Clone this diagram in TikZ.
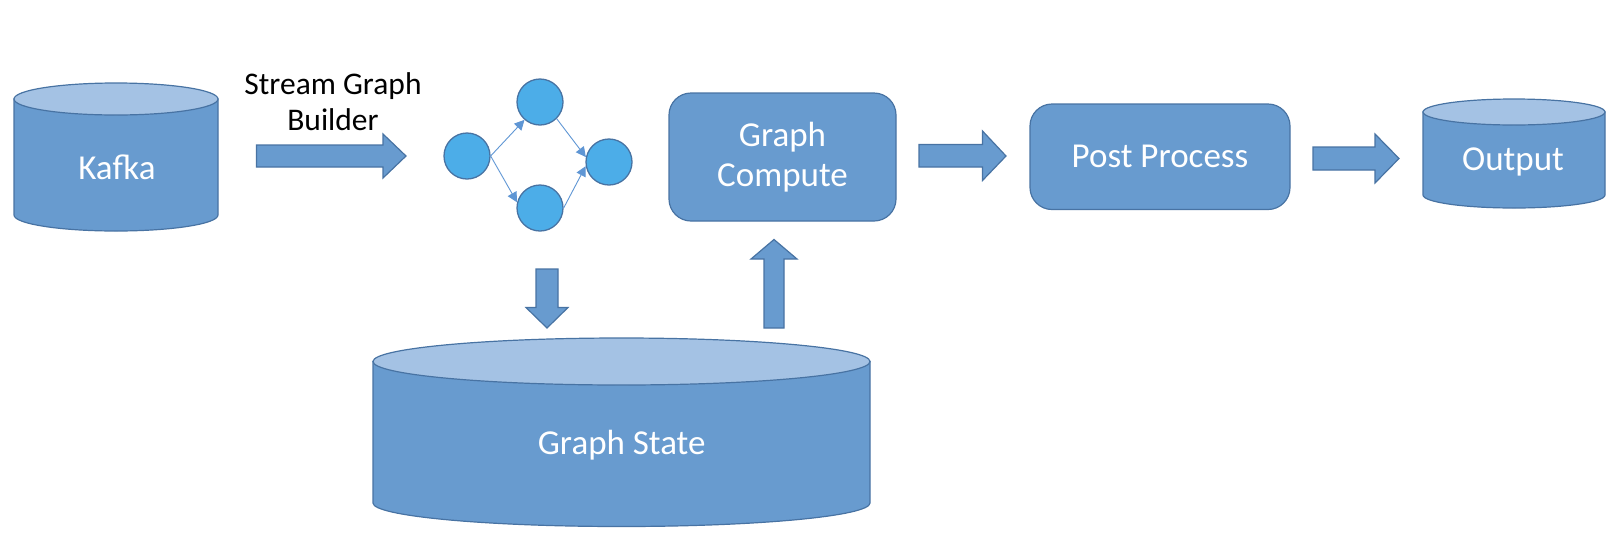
\documentclass[tikz,border=0pt]{standalone}
\usepackage{fontspec}
\setmainfont{Carlito}
\usetikzlibrary{arrows.meta}
\definecolor{bodyblue}{RGB}{104,155,207}
\definecolor{topblue}{RGB}{164,194,228}
\definecolor{edgeblue}{RGB}{72,115,163}
\definecolor{nodeblue}{RGB}{76,173,232}
\definecolor{linkblue}{RGB}{95,150,212}
\begin{document}
\begin{tikzpicture}[x=1pt,y=1pt,
  shapefill/.style={fill=bodyblue,draw=edgeblue,line width=1.2pt},
  capfill/.style={fill=topblue,draw=edgeblue,line width=1.2pt},
  txt/.style={text=white,font=\fontsize{35}{40}\selectfont,align=center},
  box/.style={shapefill,rounded corners=22pt,inner sep=0pt},
  gnode/.style={circle,fill=nodeblue,draw=edgeblue,line width=1.3pt,minimum size=46pt,inner sep=0pt},
  link/.style={draw=linkblue,line width=0.9pt,-{Triangle[length=10pt,width=10pt]}},
  blockarrow/.style={shapefill,line join=miter}]
\useasboundingbox (0,0) rectangle (1618,-542);
% Kafka cylinder
\path[shapefill] (14,-99) -- (14,-215) arc[start angle=180,end angle=360,x radius=102pt,y radius=16pt] -- (218,-99) -- cycle;
\path[capfill] (116,-99) ellipse[x radius=102pt,y radius=16pt];
\node[txt] (kafka) at (117,-167) {Kafka};
% Graph State cylinder
\path[shapefill] (373,-361.5) -- (373,-503) arc[start angle=180,end angle=360,x radius=248.5pt,y radius=23.5pt] -- (870,-361.5) -- cycle;
\path[capfill] (621.5,-361.5) ellipse[x radius=248.5pt,y radius=23.5pt];
\node[txt] (state) at (621.7,-445) {Graph State};
% Output cylinder
\path[shapefill] (1423,-112) -- (1423,-195) arc[start angle=180,end angle=360,x radius=91pt,y radius=13pt] -- (1605,-112) -- cycle;
\path[capfill] (1514,-112) ellipse[x radius=91pt,y radius=13pt];
\node[txt] (output) at (1513,-162) {Output};
% boxes
\node[box,txt,minimum width=227pt,minimum height=128pt] (compute) at (782.5,-157) {Graph\\Compute};
\node[box,txt,minimum width=260pt,minimum height=105.5pt] (post) at (1160,-156.75) {Post Process};
% block arrows
\path[blockarrow] (256.5,-145) -- (383,-145) -- (383,-134) -- (406,-156) -- (383,-178) -- (383,-167) -- (256.5,-167) -- cycle;
\path[blockarrow] (919,-144.5) -- (982.5,-144.5) -- (982.5,-131) -- (1006,-156) -- (982.5,-180.5) -- (982.5,-167) -- (919,-167) -- cycle;
\path[blockarrow] (1313,-147) -- (1375,-147) -- (1375,-134) -- (1399,-158.5) -- (1375,-183) -- (1375,-170) -- (1313,-170) -- cycle;
\path[blockarrow] (536,-269) -- (558,-269) -- (558,-307.5) -- (568,-307.5) -- (547,-328) -- (526,-307.5) -- (536,-307.5) -- cycle;
\path[blockarrow] (764,-328) -- (784,-328) -- (784,-259) -- (797,-259) -- (774,-239.5) -- (751,-259) -- (764,-259) -- cycle;
% label
\node[font=\fontsize{31.5}{36}\selectfont,align=center] (sgb) at (333,-102) {Stream Graph\\Builder};
% small graph
\node[gnode] (ga) at (467,-156) {};
\node[gnode] (gb) at (540,-102) {};
\node[gnode] (gc) at (540,-208) {};
\node[gnode] (gd) at (609,-162) {};
\draw[link] (ga.east) -- (gb.229);
\draw[link] (ga.east) -- (gc.166);
\draw[link] (gb.-45) -- (gd.168);
\draw[link] (gc.east) -- (gd.190);
\end{tikzpicture}
\end{document}
